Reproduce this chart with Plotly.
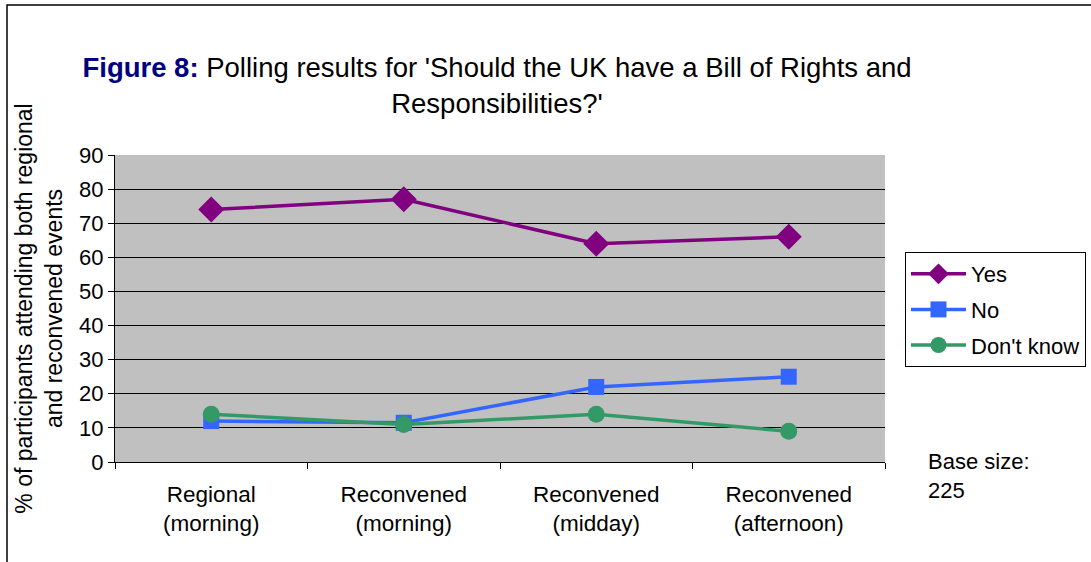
import plotly.graph_objects as go

categories = ["Regional<br>(morning)", "Reconvened<br>(morning)", "Reconvened<br>(midday)", "Reconvened<br>(afternoon)"]
yes_vals = [74, 77, 64, 66]
no_vals = [12, 11.5, 22, 25]
dk_vals = [14, 11, 14, 9]

FONT = "Liberation Sans, Arial, sans-serif"

fig = go.Figure()
fig.add_trace(go.Scatter(x=categories, y=yes_vals, name="Yes", mode="lines+markers",
                         legendgroup="a",
                         line=dict(color="#800080", width=3.5),
                         marker=dict(symbol="diamond", size=20, color="#800080")))
fig.add_trace(go.Scatter(x=categories, y=no_vals, name="No", mode="lines+markers",
                         legendgroup="b",
                         line=dict(color="#3366FF", width=3.5),
                         marker=dict(symbol="square", size=16, color="#3366FF")))
fig.add_trace(go.Scatter(x=categories, y=dk_vals, name="Don't know", mode="lines+markers",
                         legendgroup="c",
                         line=dict(color="#339966", width=3.5),
                         marker=dict(symbol="circle", size=17, color="#339966")))

L, R, T, B = 115, 206, 155, 100
W, H = 1091, 562
pw, ph = W - L - R, H - T - B

fig.update_layout(
    width=W, height=H,
    margin=dict(l=L, r=R, t=T, b=B, autoexpand=False),
    paper_bgcolor="white",
    plot_bgcolor="#C0C0C0",
    font=dict(family=FONT, size=22, color="black"),
    title=dict(
        text="<b><span style='color:#000080'>Figure 8:</span></b> Polling results for 'Should the UK have a Bill of Rights and<br>Responsibilities?'",
        x=497 / W, xanchor="center", y=1 - 77 / H, yanchor="middle",
        font=dict(family=FONT, size=27.5, color="black"),
    ),
    xaxis=dict(
        showgrid=False, showline=True, linecolor="black", linewidth=1,
        ticks="outside", ticklen=6, tickcolor="black", tickson="boundaries",
        tickfont=dict(size=22.5), range=[-0.5, 3.5], ticklabelstandoff=12,
    ),
    yaxis=dict(
        range=[0, 90], dtick=10, showgrid=True, gridcolor="black", gridwidth=1,
        showline=True, linecolor="black", linewidth=1,
        ticks="outside", ticklen=6, tickcolor="black",
        tickfont=dict(size=22), zeroline=False,
        title=dict(text="% of participants attending both regional<br>and reconvened events",
                   font=dict(size=23), standoff=10),
    ),
    legend=dict(
        x=(905 - L) / pw, y=(H - B - 252) / ph, xanchor="left", yanchor="top",
        bordercolor="black", borderwidth=1, bgcolor="white",
        font=dict(size=22), tracegroupgap=4, itemsizing="trace", itemwidth=55,
    ),
    showlegend=True,
)

fig.add_annotation(text="Base size:<br>225", xref="paper", yref="paper",
                   x=(926 - L) / pw, y=(H - B - 447) / ph, xanchor="left", yanchor="top",
                   showarrow=False, align="left", font=dict(size=22))

# outer chart frame
fig.add_shape(type="rect", xref="paper", yref="paper",
              x0=(7 - L) / pw, x1=(W + 10 - L) / pw,
              y0=-(B + 10) / ph, y1=1 + (T - 5) / ph,
              line=dict(color="black", width=1.5), layer="below")

fig.write_html("out.html", config={"displayModeBar": False},
               post_script="document.body.style.margin='0';")
